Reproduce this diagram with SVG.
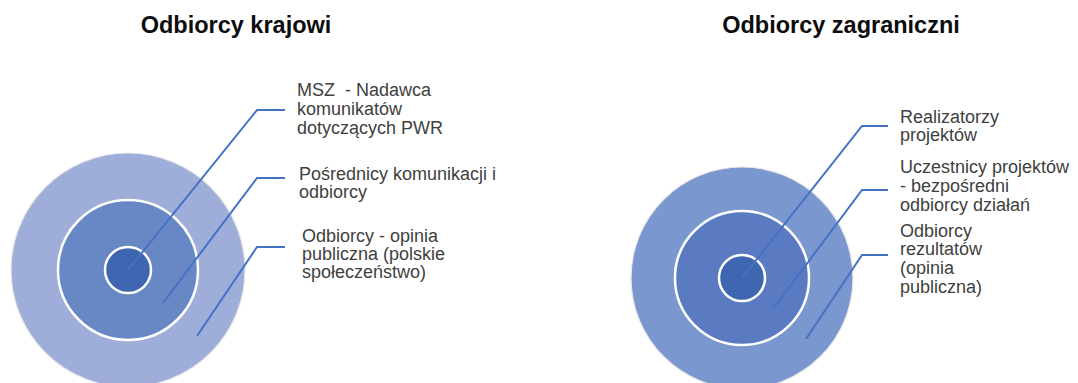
<svg xmlns="http://www.w3.org/2000/svg" width="1078" height="383" viewBox="0 0 1078 383">
<style>
.title{font-family:"Liberation Sans",Arial,sans-serif;font-weight:bold;font-size:23.5px;fill:#0d0d0d;text-anchor:middle}
.lbl{font-family:"Liberation Sans",Arial,sans-serif;font-size:18px;fill:#404040}
.ring{stroke:#ffffff;stroke-width:2.5}
.outer{stroke:#e8e8e8;stroke-width:1.2}
.conn{fill:none;stroke:#4472c4;stroke-width:2}
</style>
<rect width="1078" height="383" fill="#ffffff"/>
<text class="title" x="236" y="33">Odbiorcy krajowi</text>
<text class="title" x="841" y="33">Odbiorcy zagraniczni</text>

<g id="krajowi-outer"><circle class="outer" cx="128" cy="270" r="117" fill="#9eaed8"/></g>
<g id="krajowi-middle"><circle class="ring" cx="128" cy="270" r="70" fill="#6887c5"/></g>
<g id="krajowi-inner"><circle class="ring" cx="128" cy="270" r="23" fill="#3e66b0"/></g>

<g id="zagraniczni-outer"><circle class="outer" cx="742" cy="278" r="111" fill="#7b97cf"/></g>
<g id="zagraniczni-middle"><circle class="ring" cx="742" cy="278" r="67" fill="#5a7ac2"/></g>
<g id="zagraniczni-inner"><circle class="ring" cx="742" cy="278" r="23" fill="#3f66b0"/></g>

<g id="connectors">
<polyline class="conn" points="128,270 257,110 285,110"/>
<polyline class="conn" points="163,303 257,178 285,178"/>
<polyline class="conn" points="197,336 257,247 285,247"/>
<polyline class="conn" points="742,278 862,126 888,126"/>
<polyline class="conn" points="773,309 862,190 888,190"/>
<polyline class="conn" points="806,339 862,255 888,255"/>
</g>

<g id="label-msz"><text class="lbl" x="297" y="96">MSZ&#160; - Nadawca</text><text class="lbl" x="297" y="115">komunikatów</text><text class="lbl" x="297" y="134">dotyczących PWR</text></g>
<g id="label-posrednicy"><text class="lbl" x="299" y="180">Pośrednicy komunikacji i</text><text class="lbl" x="299" y="198">odbiorcy</text></g>
<g id="label-opinia"><text class="lbl" x="302" y="242">Odbiorcy - opinia</text><text class="lbl" x="302" y="260">publiczna (polskie</text><text class="lbl" x="302" y="278">społeczeństwo)</text></g>

<g id="label-realizatorzy"><text class="lbl" x="900" y="123">Realizatorzy</text><text class="lbl" x="900" y="141">projektów</text></g>
<g id="label-uczestnicy"><text class="lbl" x="900" y="173">Uczestnicy projektów</text><text class="lbl" x="900" y="192">- bezpośredni</text><text class="lbl" x="900" y="211">odbiorcy działań</text></g>
<g id="label-rezultaty"><text class="lbl" x="900" y="237">Odbiorcy</text><text class="lbl" x="900" y="255">rezultatów</text><text class="lbl" x="900" y="274">(opinia</text><text class="lbl" x="900" y="293">publiczna)</text></g>
</svg>
